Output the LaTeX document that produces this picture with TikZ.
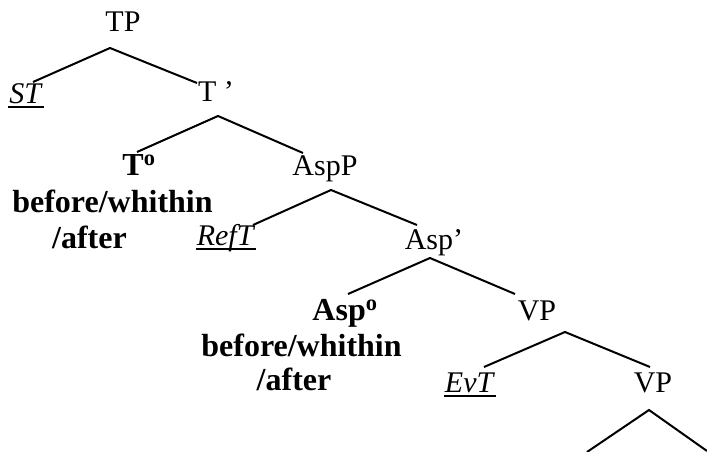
\documentclass[tikz,border=0pt]{standalone}
\usepackage{fontspec}
\setmainfont{Liberation Serif}
\tikzset{
  lbl/.style={inner sep=0pt, anchor=base, font=\fontsize{30}{34}\selectfont},
  blbl/.style={inner sep=0pt, anchor=base, font=\fontsize{32}{36}\selectfont\bfseries},
  branch/.style={line width=2pt},
  ul/.style={line width=2pt}
}
\begin{document}
\begin{tikzpicture}[x=1pt,y=-1pt]
\useasboundingbox (0,0) rectangle (707,452);
% labels
\node[lbl] (tp) at (123,32) {TP};
\node[lbl] (st) at (26,103) {\textit{ST}};
\node[lbl] (tbar) at (216,102) {T ’};
\node[blbl] (t0) at (139,175) {T\textsuperscript{o}};
\node[blbl] (t0b) at (112.5,212) {before/whithin};
\node[blbl] (t0c) at (89.5,248) {/after};
\node[lbl] (aspp) at (325,175) {AspP};
\node[lbl] (reft) at (226,245) {\textit{RefT}};
\node[lbl] (aspbar) at (434,249) {Asp’};
\node[blbl] (asp0) at (345,320) {Asp\textsuperscript{o}};
\node[blbl] (asp0b) at (301.5,356) {before/whithin};
\node[blbl] (asp0c) at (294,390) {/after};
\node[lbl] (vp) at (537,320) {VP};
\node[lbl] (evt) at (470,392) {\textit{EvT}};
\node[lbl] (vp2) at (653,392) {VP};
% underlines
\draw[ul] ([xshift=-1pt,yshift=-4pt]st.base west) -- ([xshift=1pt,yshift=-4pt]st.base east);
\draw[ul] ([xshift=-1pt,yshift=-4pt]reft.base west) -- ([xshift=1pt,yshift=-4pt]reft.base east);
\draw[ul] ([xshift=-1pt,yshift=-4pt]evt.base west) -- ([xshift=1pt,yshift=-4pt]evt.base east);
% branch points
\coordinate (a1) at (110,48);  \coordinate (a1l) at (33,82);   \coordinate (a1r) at (197,83);
\coordinate (a2) at (218,116); \coordinate (a2l) at (137,152); \coordinate (a2r) at (303,153);
\coordinate (a3) at (331,190); \coordinate (a3l) at (253,225); \coordinate (a3r) at (417,225);
\coordinate (a4) at (430,258); \coordinate (a4l) at (348,294); \coordinate (a4r) at (515,294);
\coordinate (a5) at (565,332); \coordinate (a5l) at (484,367); \coordinate (a5r) at (650,367);
\coordinate (a6) at (649,410); \coordinate (a6l) at (587,452); \coordinate (a6r) at (707,451);
\draw[branch] (a1l) -- (a1) -- (a1r);
\draw[branch] (a2l) -- (a2) -- (a2r);
\draw[branch] (a3l) -- (a3) -- (a3r);
\draw[branch] (a4l) -- (a4) -- (a4r);
\draw[branch] (a5l) -- (a5) -- (a5r);
\draw[branch] (a6l) -- (a6) -- (a6r);
\end{tikzpicture}
\end{document}
